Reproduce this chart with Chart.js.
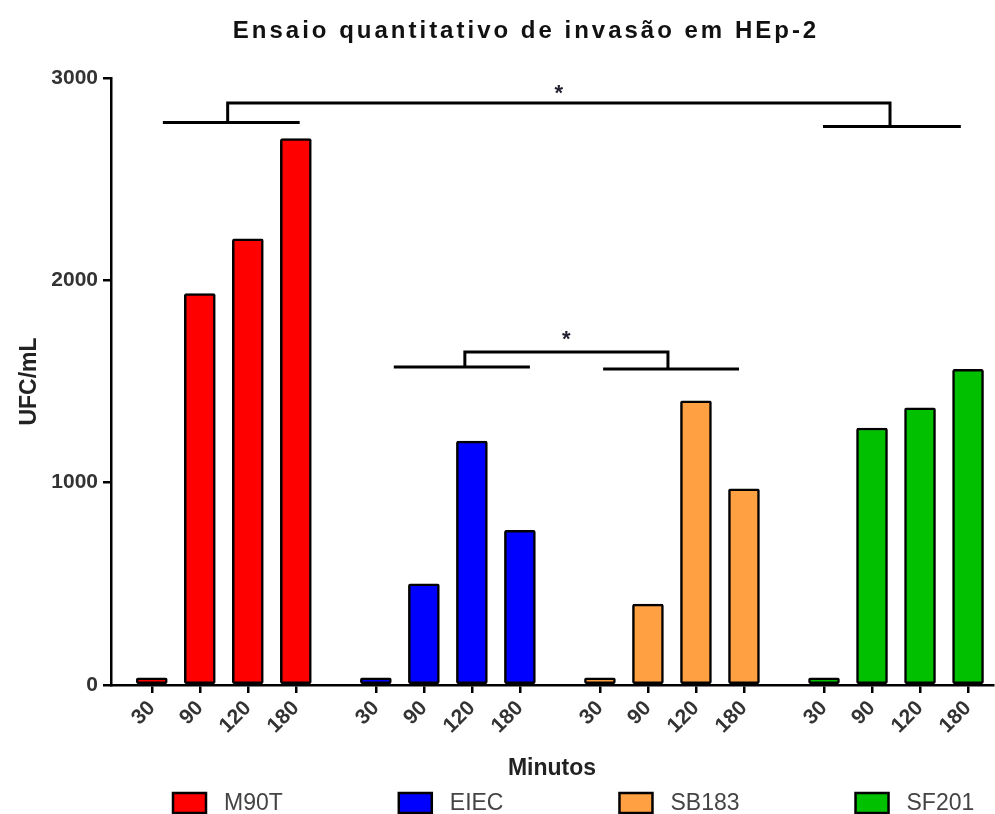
<!DOCTYPE html>
<html>
<head>
<meta charset="utf-8">
<script src="https://cdn.jsdelivr.net/npm/chart.js@4"></script>
<style>
    body { margin: 0; background: #fff; }
    #wrap { width: 995px; height: 814px; }
</style>
</head>
<body>
<div id="wrap"><canvas id="invasionChart"></canvas></div>
<script>
const strains = ['M90T', 'EIEC', 'SB183', 'SF201'];
const minutes = ['30', '90', '120', '180'];
const m90tValues = [35, 1935, 2205, 2700];
const eiecValues = [35, 500, 1205, 765];
const sb183Values = [35, 400, 1405, 970];
const sf201Values = [35, 1270, 1370, 1560];
const strainColors = ['#ff0000', '#0000ff', '#ffa042', '#00c000'];

// significance brackets, in bar-slot units (x) and UFC/mL (y)
const brackets = [
    { left: [0.23, 3.08, 2780], right: [13.98, 16.85, 2760], legs: [1.58, 15.375], top: 2877, star: 2945 },
    { left: [5.04, 7.875, 1572], right: [9.4, 12.23, 1562], legs: [6.52, 10.75], top: 1646, star: 1728 }
];

const FONT = "'Liberation Sans', Arial, sans-serif";
const groupStep = 4 + 2 / 3;   // one bar slot plus a 2/3 slot gap between strains
const slot = (g, i) => g * groupStep + i;

const allValues = [m90tValues, eiecValues, sb183Values, sf201Values];
const tickPositions = [];
strains.forEach((s, g) => minutes.forEach((m, i) => tickPositions.push(slot(g, i))));

const datasets = strains.map((name, g) => ({
    label: name,
    data: allValues[g].map((v, i) => ({ x: slot(g, i), y: v })),
    backgroundColor: strainColors[g],
    borderColor: '#000',
    borderWidth: 2.5,
    borderSkipped: false,
    borderRadius: 2,
    barThickness: 31,
    grouped: false
}));

// title, brackets and legend drawn on top of the chart
const extras = {
    id: 'extras',
    afterDraw(chart) {
        const ctx = chart.ctx;
        const xs = chart.scales.x, ys = chart.scales.y;
        ctx.save();

        ctx.fillStyle = '#111';
        ctx.font = 'bold 24px ' + FONT;
        ctx.letterSpacing = '3px';
        ctx.textAlign = 'center';
        ctx.textBaseline = 'middle';
        ctx.fillText('Ensaio quantitativo de invasão em HEp-2', 526, 31);
        ctx.letterSpacing = '0px';

        ctx.strokeStyle = '#000';
        ctx.lineWidth = 3;
        brackets.forEach(b => {
            ctx.beginPath();
            ctx.moveTo(xs.getPixelForValue(b.left[0]), ys.getPixelForValue(b.left[2]));
            ctx.lineTo(xs.getPixelForValue(b.left[1]), ys.getPixelForValue(b.left[2]));
            ctx.moveTo(xs.getPixelForValue(b.right[0]), ys.getPixelForValue(b.right[2]));
            ctx.lineTo(xs.getPixelForValue(b.right[1]), ys.getPixelForValue(b.right[2]));
            ctx.moveTo(xs.getPixelForValue(b.legs[0]), ys.getPixelForValue(b.left[2]));
            ctx.lineTo(xs.getPixelForValue(b.legs[0]), ys.getPixelForValue(b.top));
            ctx.lineTo(xs.getPixelForValue(b.legs[1]), ys.getPixelForValue(b.top));
            ctx.lineTo(xs.getPixelForValue(b.legs[1]), ys.getPixelForValue(b.right[2]));
            ctx.stroke();
            ctx.fillStyle = '#223';
            ctx.font = 'bold 22px ' + FONT;
            ctx.fillText('*', xs.getPixelForValue((b.legs[0] + b.legs[1]) / 2), ys.getPixelForValue(b.star) + 5);
        });

        // legend
        ctx.font = '23px ' + FONT;
        ctx.textAlign = 'left';
        ctx.lineWidth = 2.5;
        let x = 173;
        const y = 803;
        strains.forEach((name, g) => {
            ctx.fillStyle = strainColors[g];
            ctx.fillRect(x, y - 10, 33, 20);
            ctx.strokeRect(x, y - 10, 33, 20);
            ctx.fillStyle = '#444';
            ctx.fillText(name, x + 51, y + 1);
            x += 51 + ctx.measureText(name).width + 116;
        });
        ctx.restore();
    }
};

const ctx = document.getElementById('invasionChart').getContext('2d');
const invasionChart = new Chart(ctx, {
    type: 'bar',
    data: { datasets: datasets },
    options: {
        responsive: true,
        maintainAspectRatio: false,
        animation: false,
        layout: { padding: { top: 78, right: 2, bottom: 30, left: 0 } },
        plugins: {
            legend: { display: false },
            tooltip: { enabled: false }
        },
        scales: {
            x: {
                type: 'linear',
                min: -0.85,
                max: 17.52,
                offset: false,
                afterBuildTicks: scale => { scale.ticks = tickPositions.map(v => ({ value: v })); },
                afterFit: scale => { scale.height = 99; },
                ticks: {
                    autoSkip: false,
                    minRotation: 45,
                    maxRotation: 45,
                    padding: 3,
                    color: '#333',
                    font: { family: FONT, size: 21, weight: 'bold' },
                    callback: (value, index) => minutes[index % minutes.length]
                },
                grid: { offset: false, drawOnChartArea: false, drawTicks: true, tickLength: 8, color: '#000', lineWidth: 2.5 },
                border: { color: '#000', width: 2.5 },
                title: {
                    display: true,
                    text: 'Minutos',
                    color: '#222',
                    font: { family: FONT, size: 23, weight: 'bold' },
                    padding: { top: 0, bottom: 2 }
                }
            },
            y: {
                min: 0,
                max: 3000,
                afterFit: scale => { scale.width = 111; },
                ticks: {
                    stepSize: 1000,
                    padding: 5,
                    color: '#333',
                    font: { family: FONT, size: 21, weight: 'bold' },
                    callback: value => String(value)
                },
                grid: { drawOnChartArea: false, drawTicks: true, tickLength: 8, color: '#000', lineWidth: 2.5 },
                border: { color: '#000', width: 2.5 },
                title: {
                    display: true,
                    text: 'UFC/mL',
                    color: '#222',
                    font: { family: FONT, size: 23, weight: 'bold' },
                    padding: { top: 16, bottom: 0 }
                }
            }
        }
    },
    plugins: [extras]
});
</script>
</body>
</html>
